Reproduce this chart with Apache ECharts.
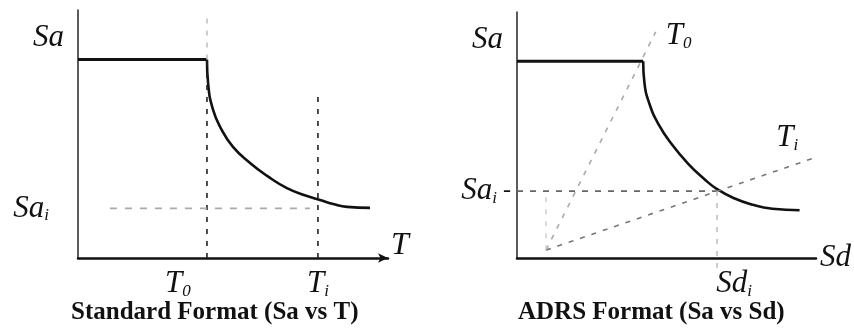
<!DOCTYPE html>
<html><head><meta charset="utf-8">
<script src="https://cdn.jsdelivr.net/npm/echarts@6/dist/echarts.min.js"></script>
<style>html,body{margin:0;padding:0;background:#fff}#c{width:854px;height:333px}</style>
</head><body><div id="c"></div>
<script>
// ---- Left panel: Standard Format (Sa vs T) ----
const stdPlateauT  = [0, 4.16];
const stdPlateauSa = [8, 8];
const stdCurveT  = [4.16, 4.2, 4.35, 4.6, 5.0, 5.55, 6.1, 6.74, 7.39, 7.81, 8.23, 8.68, 9.42];
const stdCurveSa = [8.0, 7.0, 6.0, 5.25, 4.48, 3.83, 3.31, 2.82, 2.5, 2.34, 2.18, 2.06, 2.02];
const stdT0 = 4.16, stdTi = 7.74, stdSai = 2.0;
const stdT0Top = 9.9, stdTiTop = 6.6, stdSaiFrom = 1.03, stdSaiTo = 7.48;

// ---- Right panel: ADRS Format (Sa vs Sd) ----
const adrsPlateauSd = [0, 4.22];
const adrsPlateauSa = [8, 8];
const adrsCurveSd = [4.22, 4.26, 4.42, 4.74, 5.19, 5.71, 6.27, 6.69, 7.24, 7.89, 8.54, 9.45];
const adrsCurveSa = [8.0, 7.15, 6.3, 5.42, 4.6, 3.85, 3.2, 2.8, 2.44, 2.16, 2.0, 1.94];
const adrsSdi = 6.69, adrsSai = 2.72;
const adrsRayOrigin = [0.97, 0.32];
const adrsT0RayEnd = [4.64, 9.19];
const adrsTiRayEnd = [9.94, 4.07];

const serif = '"Liberation Serif", "Times New Roman", serif';
const ink = '#111';
const zip = (a, b) => a.map((v, i) => [v, b[i]]);

const rich = {
  m:  {fontFamily: serif, fontStyle: 'italic', fontSize: 31, color: ink, lineHeight: 32},
  s:  {fontFamily: serif, fontStyle: 'italic', fontSize: 17, color: ink, verticalAlign: 'bottom', lineHeight: 32},
  d:  {fontFamily: serif, fontSize: 24, color: ink, lineHeight: 32},
  padR60: {width: 58},
  padL36: {width: 34}
};
const sub = (main, s) => '{m|' + main + '}{s|' + s + '}';

function lineSeries(name, xi, data, color, width, type, extra) {
  return Object.assign({
    name, type: 'line', xAxisIndex: xi, yAxisIndex: xi, data,
    showSymbol: false, symbol: 'none', silent: true, clip: false,
    lineStyle: {color, width, type: type || 'solid'}
  }, extra || {});
}

const dash = [5, 7];
const series = [
  // left
  lineSeries('std plateau', 0, zip(stdPlateauT, stdPlateauSa), ink, 3),
  lineSeries('std curve', 0, zip(stdCurveT, stdCurveSa), ink, 2.6, 'solid', {smooth: 0.5}),
  lineSeries('std T0 upper', 0, [[stdT0, stdPlateauSa[1]], [stdT0, stdT0Top]], '#bbb', 1.5, dash),
  lineSeries('std T0', 0, [[stdT0, 0], [stdT0, stdPlateauSa[1]]], '#222', 1.6, dash),
  lineSeries('std Ti', 0, [[stdTi, 0], [stdTi, stdTiTop]], '#222', 1.6, dash),
  lineSeries('std Sai', 0, [[stdSaiFrom, stdSai], [stdSaiTo, stdSai]], '#aaa', 1.6, [7, 8]),
  // right
  lineSeries('adrs plateau', 1, zip(adrsPlateauSd, adrsPlateauSa), ink, 3),
  lineSeries('adrs curve', 1, zip(adrsCurveSd, adrsCurveSa), ink, 2.6, 'solid', {smooth: 0.5}),
  lineSeries('adrs T0 ray', 1, [adrsRayOrigin, adrsT0RayEnd], '#aaa', 1.6, dash, {
    endLabel: {show: true, formatter: () => sub('T', '0'), rich, align: 'left', offset: [2, 4]}
  }),
  lineSeries('adrs Ti ray', 1, [adrsRayOrigin, adrsTiRayEnd], '#777', 1.6, dash, {
    endLabel: {show: true, formatter: () => sub('T', 'i'), rich, align: 'left', offset: [-46, -20]}
  }),
  lineSeries('adrs Sai', 1, [[0, adrsSai], [adrsSdi, adrsSai]], '#666', 1.6, [6, 7]),
  lineSeries('adrs Sdi', 1, [[adrsSdi, adrsSai], [adrsSdi, -0.4]], '#bbb', 1.5, dash),
  lineSeries('adrs origin', 1, [adrsRayOrigin, [adrsRayOrigin[0], adrsSai]], '#ccc', 1.4, dash)
];

const axisNameStyle = {fontFamily: serif, fontStyle: 'italic', fontSize: 31, color: ink};
const titleStyle = {fontFamily: serif, fontWeight: 'bold', fontSize: 25, color: ink};

const option = {
  backgroundColor: '#fff',
  animation: false,
  title: [
    {text: 'Standard Format (Sa vs T)', left: 66, top: 295, textStyle: titleStyle},
    {text: 'ADRS Format (Sa vs Sd)', left: 513, top: 295, textStyle: titleStyle}
  ],
  grid: [
    {left: 78, top: 10, width: 310, height: 248},
    {left: 517, top: 12, width: 308, height: 246}
  ],
  xAxis: [
    {gridIndex: 0, type: 'value', min: 0, max: 10, splitLine: {show: false}, axisTick: {show: false},
     axisLine: {lineStyle: {color: ink, width: 2.5}, symbol: ['none', 'arrow'], symbolSize: [7, 10]},
     name: 'T', nameLocation: 'end', nameGap: 3,
     nameTextStyle: Object.assign({}, axisNameStyle, {verticalAlign: 'bottom', align: 'left', fontSize: 32, lineHeight: 32, padding: [0, 0, -4, 0]}),
     axisLabel: {customValues: [stdT0, stdTi], margin: 10,
       formatter: v => v === stdT0 ? sub('T', '0') + '{padR60|}' : sub('T', 'i'), rich}},
    {gridIndex: 1, type: 'value', min: 0, max: 10, splitLine: {show: false}, axisTick: {show: false},
     axisLine: {lineStyle: {color: ink, width: 2.5}},
     name: 'Sd', nameLocation: 'end', nameGap: 4,
     nameTextStyle: Object.assign({}, axisNameStyle, {verticalAlign: 'middle', align: 'left', padding: [0, 0, 6, 0]}),
     axisLabel: {customValues: [adrsSdi], margin: 10,
       formatter: () => '{padL36|}' + sub('Sd', 'i'), rich}}
  ],
  yAxis: [
    {gridIndex: 0, type: 'value', min: 0, max: 10, splitLine: {show: false}, axisTick: {show: false},
     axisLine: {lineStyle: {color: '#333', width: 1.6}},
     name: 'Sa', nameLocation: 'end', nameGap: -28,
     nameTextStyle: Object.assign({}, axisNameStyle, {align: 'right', verticalAlign: 'middle', padding: [0, 14, 0, 0]}),
     axisLabel: {customValues: [stdSai], margin: 29, formatter: () => sub('Sa', 'i'), rich}},
    {gridIndex: 1, type: 'value', min: 0, max: 10, splitLine: {show: false}, axisTick: {show: false},
     axisLine: {lineStyle: {color: '#333', width: 1.6}},
     name: 'Sa', nameLocation: 'end', nameGap: -28,
     nameTextStyle: Object.assign({}, axisNameStyle, {align: 'right', verticalAlign: 'middle', padding: [0, 14, 0, 0]}),
     axisLabel: {customValues: [adrsSai], margin: 6, formatter: () => sub('Sa', 'i') + '{d| -}', rich}}
  ],
  series
};

const chart = echarts.init(document.getElementById('c'), null, {renderer: 'canvas'});
chart.setOption(option);
</script>
</body></html>
